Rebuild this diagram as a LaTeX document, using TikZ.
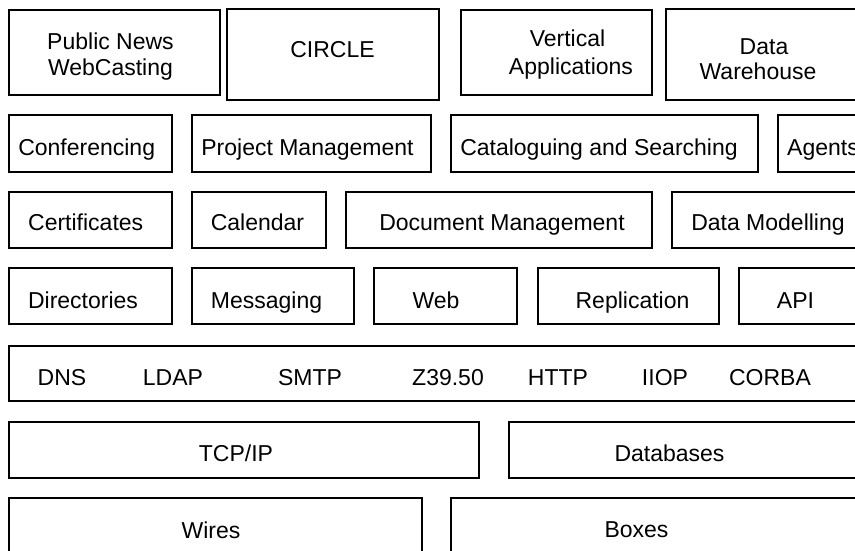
\documentclass[tikz,border=0pt]{standalone}
\usepackage{fontspec}
\setmainfont{Liberation Sans}
\usetikzlibrary{fit}

\begin{document}
\begin{tikzpicture}[x=1pt, y=-1pt,
    blk/.style={draw, line width=1.1pt, inner sep=0pt, outer sep=0pt},
    lbl/.style={font=\fontsize{23}{27}\selectfont, inner sep=0pt, anchor=base}]
    \path[use as bounding box] (0,0) rectangle (855,550);
    \clip (0,0) rectangle (855,550);

    % Applications
    \node[blk, fit={(9,10) (220,95)}] (pubnews) {};
    \node[blk, fit={(227,9) (439,100)}] (circle) {};
    \node[blk, fit={(461,10) (652,95)}] (vertical) {};
    \node[blk, fit={(666,9) (872,100)}] (warehouse) {};
    \node[lbl] (pubnewsA) at (110.5,49.3) {Public News};
    \node[lbl] (pubnewsB) at (110.5,75) {WebCasting};
    \node[lbl] (circleT) at (332.5,57.3) {CIRCLE};
    \node[lbl] (verticalA) at (567.5,46.7) {Vertical};
    \node[lbl] (verticalB) at (571,74) {Applications};
    \node[lbl] (warehouseA) at (764,54) {Data};
    \node[lbl] (warehouseB) at (758,79.3) {Warehouse};

    % Services
    \node[blk, fit={(9,115) (172,172)}] (conf) {};
    \node[blk, fit={(192,115) (431,172)}] (projmgmt) {};
    \node[blk, fit={(451,115) (758,172)}] (catalog) {};
    \node[blk, fit={(778,115) (872,172)}] (agents) {};
    \node[lbl] (confT) at (86.7,155) {Conferencing};
    \node[lbl] (projmgmtT) at (307.5,155) {Project Management};
    \node[lbl] (catalogT) at (599,155) {Cataloguing and Searching};
    \node[lbl, anchor=base west] (agentsT) at (787,155) {Agents};

    \node[blk, fit={(9,192) (172,248)}] (certs) {};
    \node[blk, fit={(192,192) (326,248)}] (calendar) {};
    \node[blk, fit={(346,192) (652,248)}] (docmgmt) {};
    \node[blk, fit={(672,192) (872,248)}] (datamod) {};
    \node[lbl] (certsT) at (85.7,230) {Certificates};
    \node[lbl] (calendarT) at (257.5,230) {Calendar};
    \node[lbl] (docmgmtT) at (502,230) {Document Management};
    \node[lbl] (datamodT) at (768,230) {Data Modelling};

    \node[blk, fit={(9,268) (172,324)}] (dirs) {};
    \node[blk, fit={(192,268) (354,324)}] (msg) {};
    \node[blk, fit={(374,268) (517,324)}] (web) {};
    \node[blk, fit={(538,268) (719,324)}] (repl) {};
    \node[blk, fit={(739,268) (872,324)}] (api) {};
    \node[lbl] (dirsT) at (83,308.3) {Directories};
    \node[lbl] (msgT) at (266.5,308.3) {Messaging};
    \node[lbl] (webT) at (436,308.3) {Web};
    \node[lbl] (replT) at (632.5,308.3) {Replication};
    \node[lbl] (apiT) at (795.5,308.3) {API};

    % Protocols
    \node[blk, fit={(9,346) (872,401)}] (proto) {};
    \node[lbl] (dns) at (62,385) {DNS};
    \node[lbl] (ldap) at (173,385) {LDAP};
    \node[lbl] (smtp) at (310,385) {SMTP};
    \node[lbl] (zthree) at (448,385) {Z39.50};
    \node[lbl] (http) at (558,385) {HTTP};
    \node[lbl] (iiop) at (665,385) {IIOP};
    \node[lbl] (corba) at (770,385) {CORBA};

    % Infrastructure
    \node[blk, fit={(9,422) (479,478)}] (tcpip) {};
    \node[blk, fit={(509,422) (872,478)}] (dbs) {};
    \node[lbl] (tcpipT) at (236,461.7) {TCP/IP};
    \node[lbl] (dbsT) at (669.5,461.7) {Databases};

    \node[blk, fit={(9,498) (422,575)}] (wires) {};
    \node[blk, fit={(451,498) (872,575)}] (boxes) {};
    \node[lbl] (wiresT) at (211,538) {Wires};
    \node[lbl] (boxesT) at (636.5,537.7) {Boxes};
\end{tikzpicture}
\end{document}
